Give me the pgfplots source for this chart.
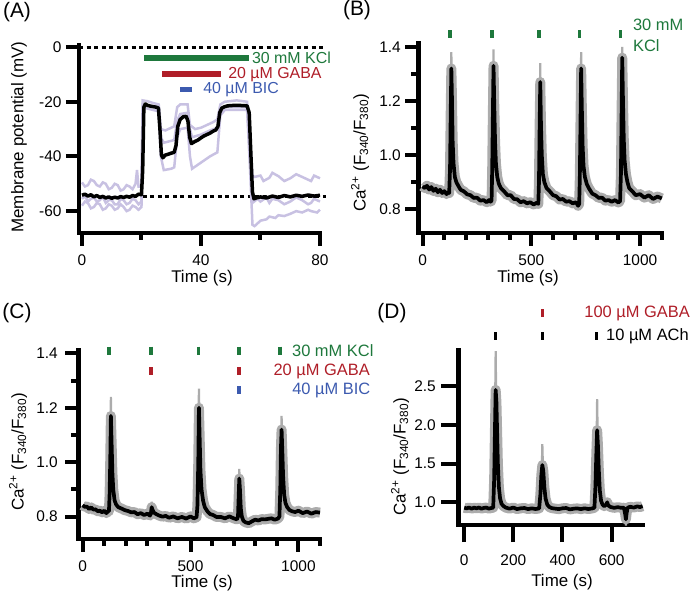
\documentclass[border=0pt]{standalone}
\usepackage{fontspec}
\setmainfont{Liberation Sans}
\usepackage{pgfplots}
\pgfplotsset{compat=1.18}
\definecolor{kcl}{RGB}{30,120,60}
\definecolor{gaba}{RGB}{175,30,40}
\definecolor{bic}{RGB}{60,90,175}
\definecolor{lav}{RGB}{200,193,226}
\definecolor{sem}{RGB}{172,172,172}
\newcommand{\fs}[1]{\fontsize{#1}{#1}\selectfont}
\pgfplotsset{
  igor/.style={
    scale only axis, clip=false,
    axis x line*=bottom, axis y line*=left,
    axis line style={line width=4.5bp,-,line cap=rect},
    tick align=outside,
    major tick length=13bp, minor tick length=7bp,
    tick style={line width=4bp,black},
    tick label style={font=\fs{15.5}},
    xticklabel style={yshift=-5bp},
    yticklabel style={xshift=-1bp},
    anchor=south west,
  },
  mean/.style={black, line width=3.7bp, line join=round},
  band/.style={sem, line width=10bp, line join=round},
  spike/.style={sem, line width=2.2bp},
  stim/.style={only marks, mark=|, mark size=4bp, mark options={line width=3.5bp}},
}
\begin{document}
\begin{tikzpicture}
\path[use as bounding box] (0,0) rectangle (693bp,596bp);

% ---------------- Panel A ----------------
\begin{axis}[igor, at={(79bp,363bp)}, width=241bp, height=187.3bp,
  xmin=-1, xmax=80, ymin=-68, ymax=0.5,
  xtick={0,40,80}, xticklabels={0,40,80}, minor xtick={20,60},
  ytick={-60,-40,-20,0}, yticklabels={-60,-40,-20,0}]
\addplot[black, line width=3bp, dash pattern=on 4bp off 3.5bp] coordinates {(-1,0) (82,0)};
\addplot[black, line width=3bp, dash pattern=on 4bp off 3.5bp] coordinates {(20.5,-54.5) (82,-54.5)};
\addplot[lav, line width=2.5bp] coordinates {
(0,-49.5) (1,-51) (2,-50.5) (3,-48.5) (4,-49) (5,-50.5) (6,-51) (7,-49.5) (8,-50) (9,-52) (10,-51.5) (11,-50) (12,-50.5) (13,-52.5) (14,-52) (15,-50.5) (16,-51) (17,-52) (18,-50) (18.5,-45) (19,-51) (20,-51)
(20.4,-19.5) (22,-19.8) (24,-20.5) (25.8,-21) (26.5,-30) (28,-30.5) (30,-29.5) (31,-29) (32,-22) (33,-21) (35.5,-21)
(36.3,-28.5) (38,-30) (40,-29.5) (42,-28.5) (44,-27.5) (45.5,-26.5) (46.5,-21) (48,-20) (52,-19.5) (55.5,-20)
(56.5,-35) (57.3,-47) (58,-47.5) (60,-47) (61,-49) (63,-47.8) (64,-46) (66,-47.2) (68,-49) (70,-48) (72,-46.5) (74,-47.5) (76,-48.5) (77,-49) (78,-47) (80,-48)};
\addplot[lav, line width=2.5bp] coordinates {
(0,-58) (1,-56.5) (2,-57) (3,-59) (4,-58.5) (5,-57) (6,-57.5) (7,-59.5) (8,-59) (9,-57.5) (10,-58) (11,-59.5) (12,-59) (13,-57.5) (14,-58.5) (15,-60) (16,-59.5) (17,-58) (18,-58.5) (19,-59.5) (20,-58.5)
(20.4,-22) (22,-22.5) (25.8,-23.5) (26.5,-40) (27.5,-45) (30,-44.5) (31,-44) (32,-33) (33,-30) (35.5,-29.5)
(36.3,-40) (37,-44.5) (39,-43) (41,-41.5) (43,-40) (45.5,-38.5) (46.5,-25) (48,-23) (55.5,-23)
(56.5,-45) (57.3,-65) (58,-65.5) (60,-63.5) (62,-63) (63,-62) (65,-62.5) (66,-61.5) (68,-61.8) (70,-61) (72,-60) (74,-60.5) (76,-59.5) (77,-60) (79,-60.5) (80,-59.5)};
\addplot[lav, line width=2.5bp] coordinates {
(0,-55.5) (1,-54.5) (2,-56.5) (3,-55.5) (4,-55) (5,-56.5) (6,-56) (7,-54.8) (8,-57) (9,-56) (10,-56) (11,-57.5) (12,-57.5) (13,-55.5) (14,-56) (15,-57.5) (16,-57) (17,-55.5) (18,-56) (19,-57.5) (20,-56.5)
(20.4,-21) (22,-21.5) (25.8,-22) (26.5,-33) (27.5,-35) (31,-34) (32,-27) (33,-24.5) (35.5,-24)
(36.3,-30) (37,-33) (40,-32) (43,-30.5) (45.5,-29.5) (46.5,-23) (48,-22) (55.5,-22)
(56.5,-40) (57.3,-57) (59,-55.5) (60,-56.5) (62,-55) (63,-57) (64,-55.5) (66,-56) (68,-57.5) (70,-56.5) (72,-55) (74,-56) (76,-57.5) (77,-57) (78,-55.5) (80,-56.5)};
\addplot[black, line width=3.5bp, line join=round] coordinates {
(0,-54.2) (1,-53.8) (2,-54.5) (3,-54.0) (4,-54.8) (5,-54.3) (6,-55.0) (7,-54.6) (8,-55.2) (9,-54.8) (10,-55.3)
(11,-54.9) (12,-55.2) (13,-54.7) (14,-55.0) (15,-54.6) (16,-54.9) (17,-54.3) (18,-54.6) (19,-53.8) (20,-54.0)
(20.4,-45) (20.8,-22) (21.3,-20.8) (22,-21.3) (23,-21.6) (24,-21.8) (25,-22.0) (25.7,-22.3) (26.2,-30) (26.7,-39.5)
(27.2,-40.5) (28,-39.5) (29,-39.2) (30,-38.8) (31,-38.5) (31.6,-36) (32.2,-29) (33,-26.5) (34,-25.5) (35,-25.3)
(35.6,-27) (36.2,-33) (36.8,-35.3) (38,-34.5) (39,-34) (40,-33.2) (41,-32.5) (42,-32) (43,-31.5) (44,-30.8)
(45,-30.3) (45.7,-29) (46.3,-24) (47,-22.3) (48,-21.8) (49,-21.5) (50,-21.4) (52,-21.3) (54,-21.4) (55.5,-21.5)
(56.2,-24) (56.8,-40) (57.3,-53) (57.8,-55.5) (58.5,-55.2) (60,-54.8) (62,-55.2) (64,-54.5) (66,-55) (68,-54.3)
(70,-54.8) (72,-54.2) (74,-54.6) (76,-54.1) (78,-54.5) (80,-54.2)};
\addplot[kcl, line width=6bp] coordinates {(21,-4) (56,-4)};
\addplot[gaba, line width=6bp] coordinates {(27,-9.9) (46.7,-9.9)};
\addplot[bic, line width=5bp] coordinates {(33,-15.7) (37,-15.7)};
\node[anchor=west, text=kcl, font=\fs{16}, inner sep=0pt] at (axis cs:57.1,-4) {30 mM KCl};
\node[anchor=west, text=gaba, font=\fs{16}, inner sep=0pt] at (axis cs:49.1,-9.9) {20 µM GABA};
\node[anchor=west, text=bic, font=\fs{16}, inner sep=0pt] at (axis cs:40.7,-15.7) {40 µM BIC};
\end{axis}

% ---------------- Panel B ----------------
\begin{axis}[igor, at={(418.3bp,363bp)}, width=243.5bp, height=190bp,
  xmin=-20, xmax=1100, ymin=0.7125, ymax=1.414,
  xtick={0,500,1000}, xticklabels={0,500,1000}, minor xtick={100,200,300,400,600,700,800,900,1100},
  ytick={0.8,1.0,1.2,1.4}, yticklabels={0.8,1.0,1.2,1.4}, minor ytick={0.9,1.1,1.3}]
\pgfplotstableread{
t v
0 0.885
10 0.878
20 0.887
30 0.873
40 0.882
50 0.868
60 0.876
70 0.863
80 0.872
90 0.86
100 0.867
110 0.856
118 0.863
122 0.86
126 0.95
129 1.15
132 1.32
135 1.2
138 1.05
142 0.97
148 0.92
155 0.9
165 0.885
175 0.872
190 0.866
205 0.855
220 0.852
235 0.842
250 0.843
265 0.832
280 0.834
295 0.826
305 0.834
312 0.828
317 0.832
320 0.95
323 1.15
326 1.33
329 1.2
333 1.05
337 0.97
343 0.92
350 0.895
360 0.878
375 0.866
390 0.852
405 0.852
420 0.838
435 0.837
450 0.826
465 0.83
480 0.822
495 0.826
510 0.818
525 0.824
532 0.82
535 0.9
538 1.1
541 1.27
544 1.12
548 1.0
553 0.93
560 0.9
570 0.878
585 0.866
600 0.852
615 0.848
630 0.836
645 0.838
660 0.828
675 0.83
690 0.822
705 0.826
715 0.813
720 0.82
723 0.92
726 1.12
729 1.32
732 1.18
736 1.03
740 0.96
746 0.92
755 0.893
765 0.877
780 0.858
795 0.852
810 0.842
825 0.843
840 0.832
855 0.834
870 0.828
885 0.834
900 0.825
908 0.83
912 0.93
915 1.15
918 1.36
921 1.22
925 1.06
929 0.98
935 0.93
942 0.9
950 0.878
965 0.866
980 0.852
1000 0.856
1020 0.843
1040 0.852
1060 0.838
1080 0.847
1100 0.84
}\tabB
\addplot[band] table[x=t,y=v] {\tabB};
\addplot[spike] coordinates {(130,1.2) (132,1.38) (134,1.22)};
\addplot[spike] coordinates {(324,1.2) (326,1.39) (328,1.22)};
\addplot[spike] coordinates {(539,1.15) (541,1.34) (543,1.16)};
\addplot[spike] coordinates {(727,1.2) (729,1.38) (731,1.22)};
\addplot[spike] coordinates {(916,1.24) (918,1.4) (920,1.26)};
\addplot[mean] table[x=t,y=v] {\tabB};
\addplot[stim, kcl] coordinates {(125,1.446) (318,1.446) (535,1.446) (722,1.446) (910,1.446)};
\node[anchor=west, text=kcl, font=\fs{16.5}, inner sep=0pt] at (axis cs:967,1.48) {30 mM};
\node[anchor=west, text=kcl, font=\fs{16.5}, inner sep=0pt] at (axis cs:967,1.406) {KCl};
\end{axis}

% ---------------- Panel C ----------------
\begin{axis}[igor, at={(78.3bp,57bp)}, width=241.7bp, height=188.4bp,
  xmin=-20, xmax=1100, ymin=0.718, ymax=1.41,
  xtick={0,500,1000}, xticklabels={0,500,1000}, minor xtick={100,200,300,400,600,700,800,900,1100},
  ytick={0.8,1.0,1.2,1.4}, yticklabels={0.8,1.0,1.2,1.4}, minor ytick={0.9,1.1,1.3},
  yticklabel style={xshift=-3bp}]
\pgfplotstableread{
t v
0 0.842
10 0.836
20 0.837
30 0.828
40 0.834
50 0.826
60 0.827
70 0.82
80 0.822
90 0.816
100 0.822
110 0.813
118 0.82
122 0.82
125 0.88
128 1.0
131 1.17
134 1.08
138 0.96
142 0.9
148 0.86
155 0.845
165 0.835
180 0.83
195 0.824
210 0.821
225 0.816
240 0.817
255 0.809
270 0.813
285 0.806
300 0.811
312 0.804
316 0.81
320 0.835
324 0.825
330 0.815
340 0.81
355 0.804
370 0.8
385 0.803
400 0.796
420 0.801
440 0.794
460 0.799
480 0.793
500 0.801
515 0.794
528 0.798
532 0.84
536 1.0
539 1.2
542 1.1
546 0.97
551 0.9
558 0.86
566 0.835
578 0.82
590 0.81
605 0.806
620 0.799
640 0.799
660 0.794
680 0.801
700 0.794
715 0.79
720 0.8
723 0.87
726 0.94
729 0.9
733 0.83
738 0.8
745 0.785
755 0.779
770 0.776
785 0.783
800 0.789
815 0.786
830 0.791
845 0.79
860 0.792
875 0.794
890 0.789
905 0.793
912 0.8
916 0.9
919 1.05
922 1.12
925 1.05
929 0.95
934 0.88
940 0.85
948 0.835
958 0.825
970 0.82
985 0.817
1000 0.822
1020 0.813
1040 0.819
1060 0.811
1080 0.817
1100 0.815
}\tabC
\addplot[band] table[x=t,y=v] {\tabC};
\addplot[spike] coordinates {(129,1.1) (131,1.24) (133,1.12)};
\addplot[spike] coordinates {(318,0.83) (320,0.855) (322,0.83)};
\addplot[spike] coordinates {(537,1.15) (539,1.27) (541,1.17)};
\addplot[spike] coordinates {(724,0.92) (726,0.975) (728,0.93)};
\addplot[spike] coordinates {(920,1.08) (922,1.17) (924,1.1)};
\addplot[mean] table[x=t,y=v] {\tabC};
\addplot[stim, kcl] coordinates {(123,1.41) (317,1.41) (536,1.41) (725,1.41) (915,1.41)};
\addplot[stim, gaba] coordinates {(317,1.335) (725,1.335)};
\addplot[stim, bic] coordinates {(725,1.265)};
\node[anchor=west, text=kcl, font=\fs{16.5}, inner sep=0pt] at (axis cs:970,1.41) {30 mM KCl};
\node[anchor=east, text=gaba, font=\fs{16.5}, inner sep=0pt] at (axis cs:1332,1.335) {20 µM GABA};
\node[anchor=east, text=bic, font=\fs{16.5}, inner sep=0pt] at (axis cs:1334,1.265) {40 µM BIC};
\end{axis}

% ---------------- Panel D ----------------
\begin{axis}[igor, at={(458.3bp,71bp)}, width=184.3bp, height=174.3bp,
  xmin=-24, xmax=726, ymin=0.707, ymax=2.955,
  major tick length=17bp,
  xticklabel style={yshift=-4bp},
  yticklabel style={xshift=-1bp},
  xtick={0,200,400,600}, xticklabels={0,200,400,600},
  ytick={1.0,1.5,2.0,2.5}, yticklabels={1.0,1.5,2.0,2.5}]
\pgfplotstableread{
t v
0 0.93
10 0.922
20 0.932
30 0.918
40 0.93
50 0.922
60 0.933
70 0.918
80 0.927
90 0.932
100 0.918
110 0.926
118 0.93
122 1.3
125 1.9
128 2.45
131 2.3
134 1.9
137 1.5
141 1.2
146 1.05
152 0.98
160 0.95
170 0.93
185 0.918
200 0.932
215 0.912
230 0.922
245 0.926
260 0.912
275 0.922
290 0.913
305 0.92
310 1.1
314 1.35
318 1.48
322 1.4
326 1.2
331 1.05
338 0.97
346 0.94
356 0.925
370 0.918
385 0.912
400 0.922
415 0.926
430 0.908
445 0.917
460 0.921
475 0.912
490 0.922
505 0.913
520 0.92
530 0.93
534 1.2
538 1.65
541 1.93
544 1.75
548 1.4
552 1.15
557 1.02
563 0.97
570 0.95
578 0.97
582 1.0
586 0.96
595 0.94
610 0.928
625 0.937
640 0.928
650 0.93
655 0.85
658 0.78
661 0.86
665 0.93
675 0.942
690 0.932
705 0.947
715 0.938
726 0.95
}\tabD
\addplot[band] table[x=t,y=v] {\tabD};
\addplot[spike] coordinates {(126,2.3) (128,2.95) (130,2.4)};
\addplot[spike] coordinates {(316,1.45) (318,1.75) (320,1.5)};
\addplot[spike] coordinates {(539,1.85) (541,2.33) (543,1.9)};
\addplot[spike] coordinates {(656,0.84) (658,0.70) (660,0.86)};
\addplot[mean] table[x=t,y=v] {\tabD};
\addplot[stim, black] coordinates {(127,3.14) (318,3.14) (539,3.14)};
\addplot[stim, gaba] coordinates {(318,3.44)};
\node[anchor=east, text=gaba, font=\fs{16.5}, inner sep=0pt] at (axis cs:919,3.44) {100 µM GABA};
\node[anchor=west, text=black, font=\fs{16.5}, inner sep=0pt] at (axis cs:577,3.14) {10 µM ACh};
\end{axis}

% ---------------- labels ----------------
\node[font=\fs{17}, rotate=90] at (19bp,459bp) {Membrane potential (mV)};
\node[font=\fs{17}, rotate=90] at (360bp,443bp) {Ca\textsuperscript{2+} (F\textsubscript{340}/F\textsubscript{380})};
\node[font=\fs{17}, rotate=90] at (18bp,144bp) {Ca\textsuperscript{2+} (F\textsubscript{340}/F\textsubscript{380})};
\node[font=\fs{17}, rotate=90] at (400bp,139bp) {Ca\textsuperscript{2+} (F\textsubscript{340}/F\textsubscript{380})};
\node[font=\fs{17}] at (202bp,318bp) {Time (s)};
\node[font=\fs{17}] at (528bp,318bp) {Time (s)};
\node[font=\fs{17}] at (202bp,13bp) {Time (s)};
\node[font=\fs{17}] at (562bp,14bp) {Time (s)};
\node[font=\fs{21}] at (17bp,584bp) {(A)};
\node[font=\fs{21}] at (357bp,586bp) {(B)};
\node[font=\fs{21}] at (17bp,283bp) {(C)};
\node[font=\fs{21}] at (392bp,283bp) {(D)};
\end{tikzpicture}
\end{document}
